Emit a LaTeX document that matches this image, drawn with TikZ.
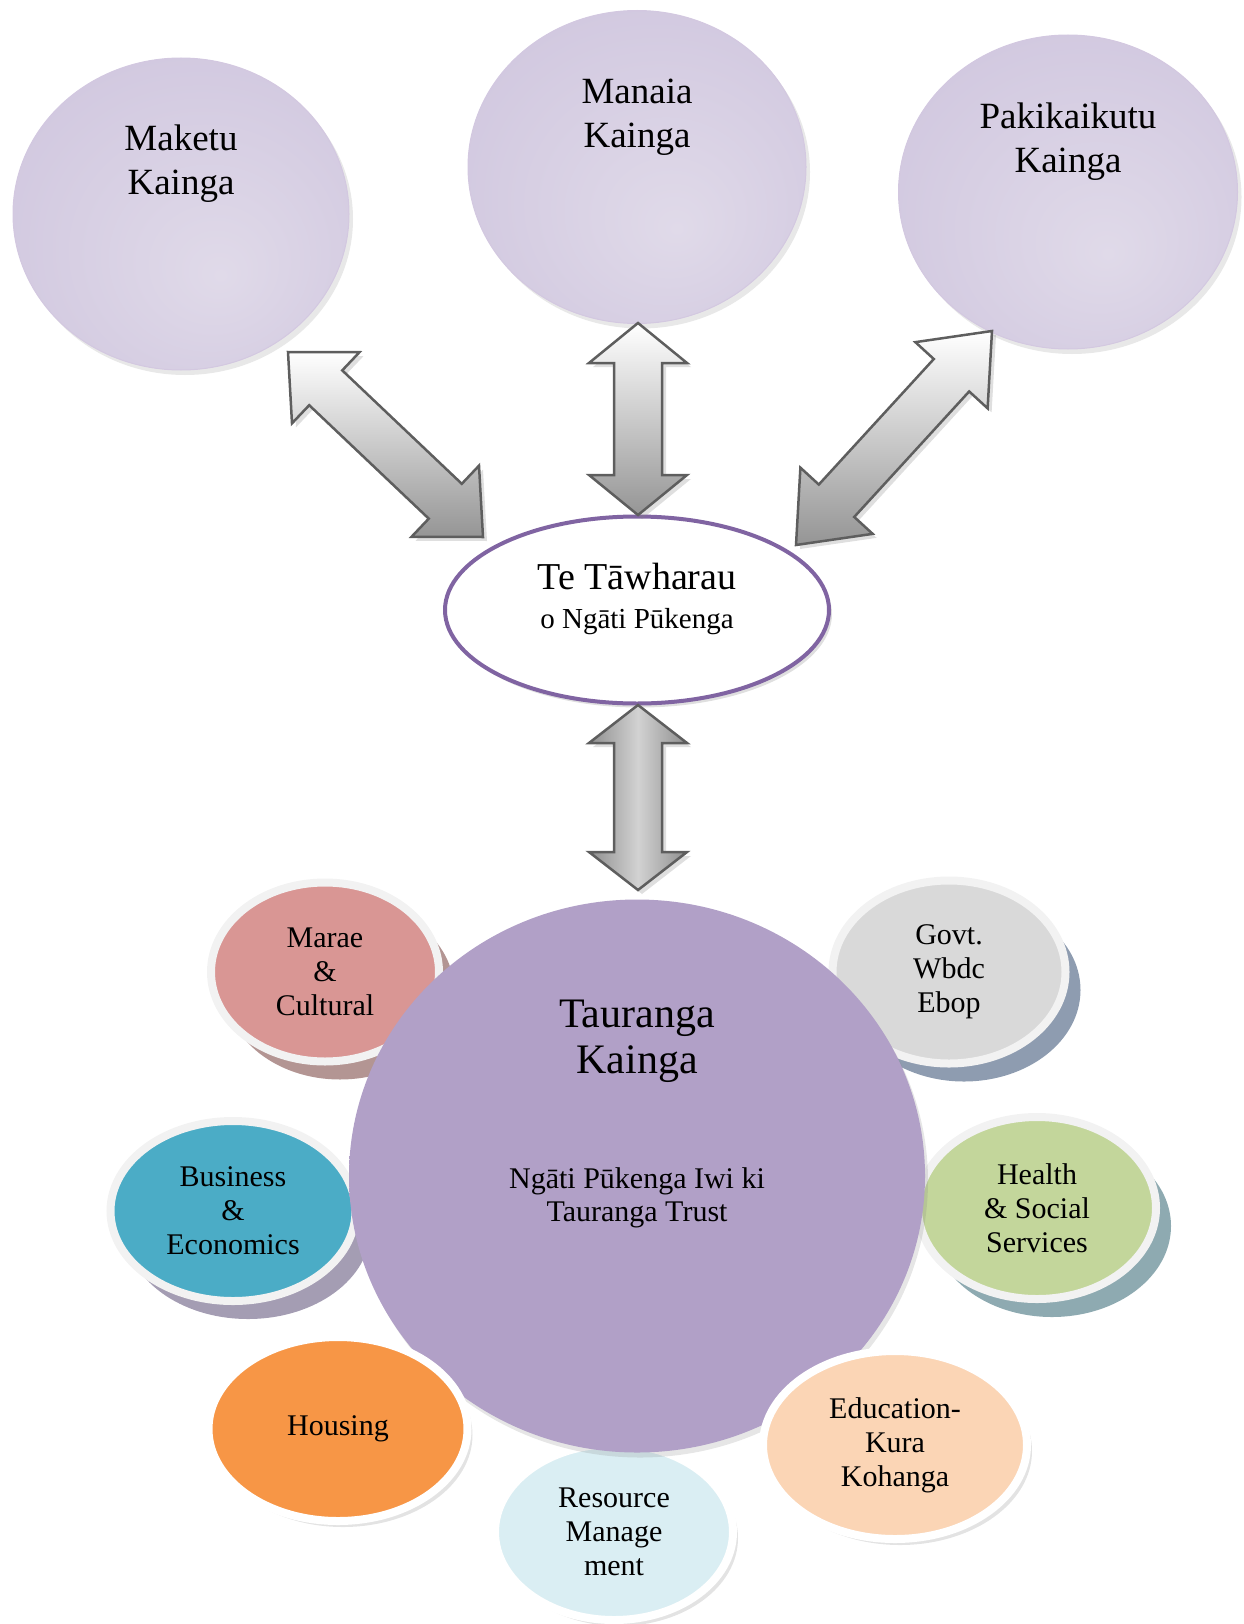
\documentclass[tikz,border=0pt]{standalone}
\usepackage{fontspec}
\setmainfont{Liberation Serif}
\usetikzlibrary{calc,positioning,shapes.geometric,shadows}

\definecolor{bubin}{HTML}{E0DAE9}
\definecolor{bubmid}{HTML}{D2C9E0}
\definecolor{bubout}{HTML}{B5A3CC}
\definecolor{bigfill}{HTML}{B1A0C7}
\definecolor{bigrim}{HTML}{D2C3EA}
\definecolor{tawline}{HTML}{8064A2}
\definecolor{arrowline}{HTML}{5E5E5E}
\definecolor{arrowgray}{HTML}{959595}
\definecolor{arrowdark}{HTML}{8E8E8E}
\definecolor{arrowlight}{HTML}{D2D2D2}
\definecolor{ringgray}{HTML}{F2F2F2}
\definecolor{maraefill}{HTML}{D99694}
\definecolor{maraeshade}{HTML}{B39593}
\definecolor{govtfill}{HTML}{D9D9D9}
\definecolor{govtshade}{HTML}{8E9CB0}
\definecolor{busfill}{HTML}{4BACC6}
\definecolor{busshade}{HTML}{A49DB3}
\definecolor{healthfill}{HTML}{C3D69B}
\definecolor{healthshade}{HTML}{8EAAB1}
\definecolor{housefill}{HTML}{F79646}
\definecolor{resfill}{HTML}{DAEEF3}
\definecolor{edufill}{HTML}{FBD5B5}

\pgfdeclareradialshading{bubble}{\pgfpoint{6bp}{-10bp}}{color(0bp)=(bubin); color(30bp)=(bubmid); color(50bp)=(bubout)}
\pgfdeclareradialshading{rim}{\pgfpointorigin}{color(0bp)=(bigfill); color(46bp)=(bigfill); color(50bp)=(bigrim)}

\newcommand\dblarrow[4][]{%
  \draw[#1] (#2) -- ($(#2)!#4!(#3)!49pt!90:(#3)$) -- ($(#2)!#4!(#3)!24pt!90:(#3)$)
    -- ($(#3)!#4!(#2)!24pt!-90:(#2)$) -- ($(#3)!#4!(#2)!49pt!-90:(#2)$) -- (#3)
    -- ($(#3)!#4!(#2)!49pt!90:(#2)$) -- ($(#3)!#4!(#2)!24pt!90:(#2)$)
    -- ($(#2)!#4!(#3)!24pt!-90:(#3)$) -- ($(#2)!#4!(#3)!49pt!-90:(#3)$) -- cycle;}

\begin{document}
\begin{tikzpicture}[x=1pt,y=-1pt,
    kainga/.style={ellipse, inner sep=0pt, shade, shading=bubble, draw=white!40!bubout, line width=1pt,
      drop shadow={opacity=.18, shadow xshift=4pt, shadow yshift=-5pt}},
    kaitxt/.style={align=center, font=\fontsize{37}{44}\selectfont},
    blockarrow/.style={draw=arrowline, line width=2.5pt, line join=miter,
      drop shadow={opacity=.25, shadow xshift=4pt, shadow yshift=-4pt}},
    arrowtop/.style={blockarrow, top color=white, bottom color=arrowgray},
    arrowside/.style={blockarrow, left color=arrowdark, right color=arrowdark, middle color=arrowlight},
    sat/.style 2 args={ellipse, inner sep=0pt, fill=#1, draw=ringgray, line width=8pt, align=center,
      font=\fontsize{30}{34}\selectfont, drop shadow={fill=#2, opacity=1, shadow xshift=15pt, shadow yshift=-18pt}},
    satsoft/.style={ellipse, inner sep=0pt, fill=#1, draw=white, line width=8pt, align=center,
      font=\fontsize{30}{34}\selectfont, drop shadow={opacity=.22, shadow xshift=5pt, shadow yshift=-6pt}}]
  \useasboundingbox (0,0) rectangle (1244,1624);

  \node[kainga, minimum width=336pt, minimum height=312pt] (mak) at (181,214) {};
  \node[kainga, minimum width=338pt, minimum height=313pt] (man) at (637,167) {};
  \node[kainga, minimum width=339pt, minimum height=314pt] (pak) at (1068,192) {};
  \node[kaitxt] (mak-t) at ([yshift=50pt]mak.center) {Maketu\\Kainga};
  \node[kaitxt] (man-t) at ([yshift=50pt]man.center) {Manaia\\Kainga};
  \node[kaitxt] (pak-t) at ([yshift=50pt]pak.center) {Pakikaikutu\\Kainga};

  \node[ellipse, inner sep=0pt, fill=white, draw=tawline, line width=4pt, minimum width=384pt, minimum height=187pt,
    drop shadow={opacity=.25, shadow xshift=3pt, shadow yshift=-4pt}] (taw) at (637,610) {};
  \node[align=center, font=\fontsize{29}{39}\selectfont] (taw-t) at ([yshift=11pt]taw.center)
    {{\fontsize{38}{39}\selectfont Te Tāwharau}\\o Ngāti Pūkenga};

  \coordinate (mak-a) at (288,352);
  \coordinate (taw-a) at (483,537);
  \coordinate (man-a) at (638,323);
  \coordinate (taw-b) at (638,515);
  \coordinate (pak-a) at (992,331);
  \coordinate (taw-c) at (796,545);
  \coordinate (taw-d) at (638,705);
  \coordinate (tau-a) at (638,890);
  \dblarrow[arrowtop]{mak-a}{taw-a}{52pt}
  \dblarrow[arrowtop]{man-a}{taw-b}{40pt}
  \dblarrow[arrowtop]{pak-a}{taw-c}{60pt}
  \dblarrow[arrowside]{taw-d}{tau-a}{38pt}

  \node[satsoft=resfill, minimum width=238pt, minimum height=176pt] (res) at (614,1532) {Resource\\Manage\\ment};
  \node[sat={maraefill}{maraeshade}, minimum width=228pt, minimum height=179pt] (marae) at (325,972) {Marae\\\&\\Cultural};
  \node[sat={govtfill}{govtshade}, minimum width=233pt, minimum height=183pt] (govt) at (949,972) {Govt.\\Wbdc\\Ebop};
  \node[sat={busfill}{busshade}, minimum width=245pt, minimum height=180pt] (bus) at (233,1211) {Business\\\&\\Economics};
  \node[sat={healthfill}{healthshade}, minimum width=238pt, minimum height=182pt] (health) at (1037,1208) {Health\\\& Social\\Services};

  \node[ellipse, inner sep=0pt, shade, shading=rim, minimum width=576pt, minimum height=553pt,
    drop shadow={opacity=.2, shadow xshift=3pt, shadow yshift=-5pt}] (tau) at (637,1176) {};
  \node[align=center, font=\fontsize{42}{46}\selectfont] (tau-t) at ([yshift=135pt]tau.center) {Tauranga\\Kainga};
  \node[align=center, font=\fontsize{30}{33}\selectfont] (tau-s) at ([yshift=-22pt]tau.center) {Ngāti Pūkenga Iwi ki\\Tauranga Trust};

  \node[satsoft=housefill, minimum width=259pt, minimum height=184pt] (house) at (338,1429) {Housing};
  \node[satsoft=edufill, minimum width=264pt, minimum height=188pt] (edu) at (895,1445) {Education-\\Kura\\Kohanga};
\end{tikzpicture}
\end{document}
